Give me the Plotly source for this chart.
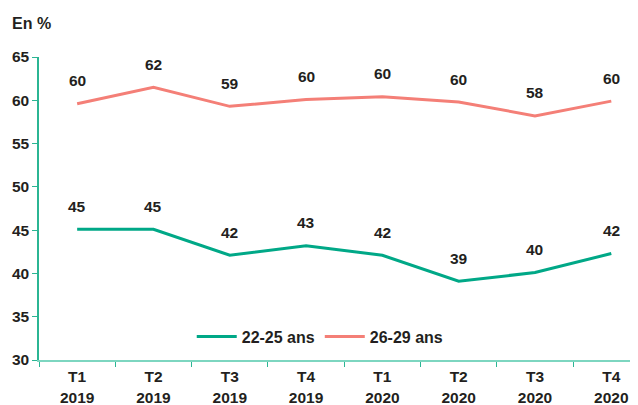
import plotly.graph_objects as go

categories = ["T1<br>2019", "T2<br>2019", "T3<br>2019", "T4<br>2019",
              "T1<br>2020", "T2<br>2020", "T3<br>2020", "T4<br>2020"]
serie_22_25 = [45.1, 45.1, 42.1, 43.2, 42.1, 39.1, 40.1, 42.3]
serie_26_29 = [59.6, 61.5, 59.3, 60.1, 60.4, 59.8, 58.2, 59.9]
labels_22_25 = ["45", "45", "42", "43", "42", "39", "40", "42"]
labels_26_29 = ["60", "62", "59", "60", "60", "60", "58", "60"]
y_ticks = [30, 35, 40, 45, 50, 55, 60, 65]

GREEN = "#00a887"
PINK = "#f47f77"
TEXT = "#231f20"
AXIS = "#2bb593"
FONT = "Liberation Sans, Arial, sans-serif"
NUM = 15.5
TXT = 16

fig = go.Figure()
fig.add_trace(go.Scatter(x=categories, y=serie_22_25, mode="lines", name="22-25 ans",
                         line=dict(color=GREEN, width=3)))
fig.add_trace(go.Scatter(x=categories, y=serie_26_29, mode="lines", name="26-29 ans",
                         line=dict(color=PINK, width=3)))

annotations = []
for vals, labs in ((serie_22_25, labels_22_25), (serie_26_29, labels_26_29)):
    for xc, v, t in zip(categories, vals, labs):
        annotations.append(dict(x=xc, y=v, text=t, showarrow=False, yshift=23,
                                xanchor="center", yanchor="middle",
                                font=dict(size=NUM, color=TEXT, family=FONT, weight="bold")))
annotations.append(dict(x=0, y=1, xref="paper", yref="paper", text="En %", showarrow=False,
                        xanchor="left", yanchor="middle", xshift=-29, yshift=34,
                        font=dict(size=TXT, color=TEXT, family=FONT, weight="bold")))

fig.update_layout(
    width=630, height=397,
    margin=dict(l=31, r=0, t=49, b=45),
    paper_bgcolor="white", plot_bgcolor="white",
    font=dict(family=FONT, size=NUM, color=TEXT, weight="bold"),
    showlegend=True,
    legend=dict(orientation="h", x=0.255, y=0.077, xanchor="left", yanchor="middle",
                font=dict(size=TXT, color=TEXT, family=FONT, weight="bold"),
                bgcolor="rgba(0,0,0,0)", itemwidth=40, tracegroupgap=0),
    annotations=annotations,
    xaxis=dict(type="category", range=[-0.5, 7.35], tickson="boundaries", automargin=False,
               showgrid=False, zeroline=False, showline=True, linecolor="#7dd6c0", linewidth=1.5,
               ticks="outside", ticklen=5, tickcolor=AXIS, tickwidth=1.2, ticklabelstandoff=2,
               tickfont=dict(size=NUM, color=TEXT, family=FONT, weight="bold")),
    yaxis=dict(range=[30, 65], tickvals=y_ticks, showgrid=False, zeroline=False,
               showline=True, linecolor=AXIS, linewidth=1.5, automargin=False,
               ticks="outside", ticklen=5, tickcolor=AXIS,
               tickfont=dict(size=NUM, color=TEXT, family=FONT, weight="bold")),
)

fig.write_html("out.html")
